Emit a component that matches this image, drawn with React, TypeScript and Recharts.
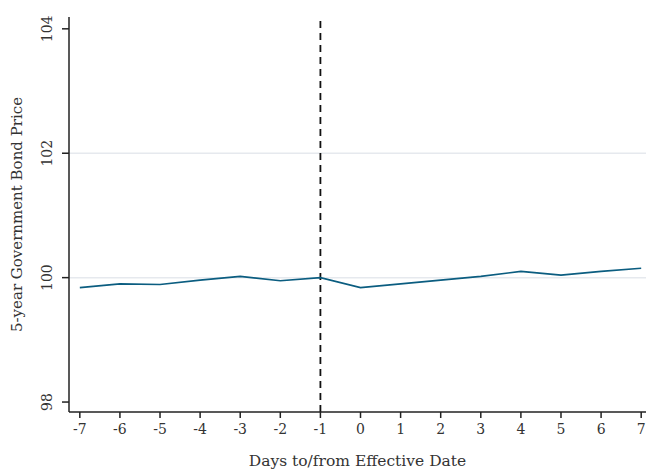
import { Line, LineChart, ReferenceLine, XAxis, YAxis } from 'recharts'

const days = [-7, -6, -5, -4, -3, -2, -1, 0, 1, 2, 3, 4, 5, 6, 7]
const bondPrice = [99.84, 99.9, 99.89, 99.96, 100.02, 99.95, 100.0, 99.84, 99.9, 99.96, 100.02, 100.1, 100.04, 100.1, 100.15]
const yTicks = [98, 100, 102, 104]
const gridValues = [100, 102]
const eventDay = -1

const data = days.map((d, i) => ({ day: d, price: bondPrice[i] }))

const font = '"DejaVu Serif", "Liberation Serif", serif'

function RotatedTick(props: any) {
  const { x, y, payload } = props
  return (
    <text
      x={x - 13}
      y={y}
      transform={`rotate(-90, ${x - 13}, ${y})`}
      textAnchor="middle"
      dominantBaseline="central"
      fontFamily={font}
      fontSize={14}
      fill="#333"
    >
      {payload.value}
    </text>
  )
}

export default function App() {
  return (
    <div style={{ position: 'absolute', left: 0, top: 0, background: '#fff' }}>
      <LineChart width={646} height={469} data={data} margin={{ top: 17, right: 0, left: 0, bottom: 0 }}>
        {gridValues.map((v) => (
          <ReferenceLine key={v} y={v} stroke="#e6e9ee" strokeWidth={1.5} />
        ))}
        <XAxis
          dataKey="day"
          type="number"
          domain={[-7.27, 7.12]}
          ticks={days}
          allowDataOverflow
          height={57}
          stroke="#222"
          strokeWidth={1.5}
          tickSize={6}
          tick={{ fontFamily: font, fontSize: 14, fill: '#333', dy: 4 }}
          label={{ value: 'Days to/from Effective Date', position: 'insideBottom', offset: 3, fontFamily: font, fontSize: 15.5, fill: '#333' }}
        />
        <YAxis
          type="number"
          domain={[97.84, 104.19]}
          ticks={yTicks}
          allowDataOverflow
          width={69}
          stroke="#222"
          strokeWidth={1.5}
          tickSize={7}
          tick={<RotatedTick />}
          label={{ value: '5-year Government Bond Price', angle: -90, position: 'insideLeft', offset: 17, style: { textAnchor: 'middle' }, fontFamily: font, fontSize: 15, fill: '#333' }}
        />
        <ReferenceLine x={eventDay} stroke="#111" strokeWidth={1.8} strokeDasharray="7 5" />
        <Line type="linear" dataKey="price" stroke="#0b5d80" strokeWidth={1.6} dot={false} isAnimationActive={false} />
      </LineChart>
    </div>
  )
}
